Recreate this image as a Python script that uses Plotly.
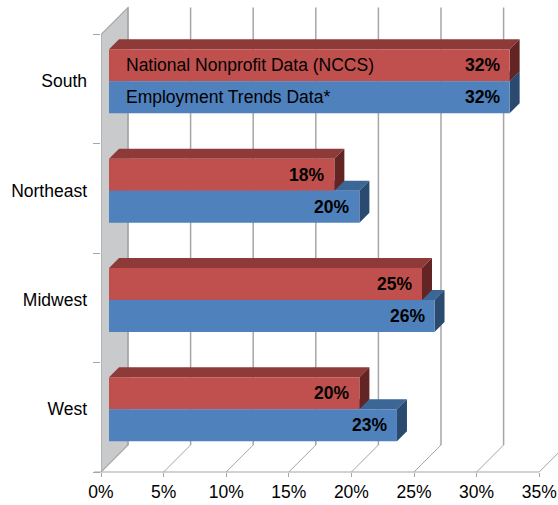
import plotly.graph_objects as go

# ---- data -------------------------------------------------------------
regions = ["South", "Northeast", "Midwest", "West"]
nccs = [32, 18, 25, 20]            # National Nonprofit Data (NCCS), %
employment = [32, 20, 26, 23]      # Employment Trends Data*, %
series_names = ["National Nonprofit Data (NCCS)", "Employment Trends Data*"]
x_ticks = [0, 5, 10, 15, 20, 25, 30, 35]

# ---- styling ------------------------------------------------------------
RED = dict(front="#C0504D", top="#8E3A38", side="#622523")
BLUE = dict(front="#4F81BD", top="#3C6696", side="#2B4A70")
GRID = "#A6A6A6"
WALL = "#C9CACC"
FONT = "Liberation Sans, Arial, Helvetica, sans-serif"
FSIZE = 17.5

# ---- layout geometry (pixels) ------------------------------------------
W, H = 558, 505
ML, MB = 101, 33
plot_w, plot_h = W - ML, H - MB
PX = 12.52          # pixels per percentage point
PY = 109.35         # pixels per category band
BOX = 27            # depth of the 3-D box
BAR_Z = 8           # depth at which the bar fronts sit
BAR_D = 10          # depth of each bar
BAR_H = 32          # height of each bar

x_max = plot_w / PX
y_top = 3.5 - plot_h / PY
bx, by = BOX / PX, BOX / PY          # box depth in axis units
dx, dy = BAR_D / PX, BAR_D / PY      # bar depth in axis units
bw = BAR_H / PY                      # bar thickness in category units
zx, zy = BAR_Z / PX, BAR_Z / PY      # bar-plane shift

fig = go.Figure()

# ---- 3-D side faces of the bars (drawn underneath the bar fronts) --------
def faces(values, top_off):
    top_x, top_y, side_x, side_y = [], [], [], []
    for i, v in enumerate(values):
        t = i + top_off
        b = t + bw
        top_x += [0, v, v + dx, dx, 0, None]
        top_y += [t, t, t - dy, t - dy, t, None]
        side_x += [v, v, v + dx, v + dx, v, None]
        side_y += [t, b, b - dy, t - dy, t, None]
    return top_x, top_y, side_x, side_y

for vals, off, col in [(employment, 0.0, BLUE), (nccs, -bw, RED)]:
    tx, ty, sx, sy = faces(vals, off)
    for xs, ys, c in [(tx, ty, col["top"]), (sx, sy, col["side"])]:
        fig.add_trace(go.Scatter(
            x=xs, y=ys, mode="lines", fill="toself", fillcolor=c,
            line=dict(width=0, color=c), hoverinfo="skip",
            showlegend=False, xaxis="x2", yaxis="y2"))

# ---- bar fronts ----------------------------------------------------------
ypos = list(range(len(regions)))
fig.add_trace(go.Bar(
    name=series_names[0], orientation="h", y=ypos, x=nccs,
    width=bw, offset=-bw, marker=dict(color=RED["front"], line=dict(width=0)),
    xaxis="x3", yaxis="y3", showlegend=False))
fig.add_trace(go.Bar(
    name=series_names[1], orientation="h", y=ypos, x=employment,
    width=bw, offset=0, marker=dict(color=BLUE["front"], line=dict(width=0)),
    xaxis="x3", yaxis="y3", showlegend=False))

# ---- labels inside the bars ---------------------------------------------
ann = []
for i, (a, b) in enumerate(zip(nccs, employment)):
    for v, yc in [(a, i - bw / 2), (b, i + bw / 2)]:
        ann.append(dict(x=v, y=yc, xref="x3", yref="y3", text=f"<b>{v}%</b>",
                        showarrow=False, xanchor="right", yanchor="middle",
                        xshift=-8, font=dict(family=FONT, size=FSIZE, color="black")))
for name, yc in [(series_names[0], -bw / 2), (series_names[1], bw / 2)]:
    ann.append(dict(x=0, y=yc, xref="x3", yref="y3", text=name, showarrow=False,
                    xanchor="left", yanchor="middle", xshift=15,
                    font=dict(family=FONT, size=FSIZE, color="black")))

# ---- box: side wall, back gridlines, floor lines ------------------------
shapes = []
shapes.append(dict(type="path", xref="x", yref="y", layer="below",
                   path=f"M 0 3.5 L 0 -0.5 L {bx} {-0.5 - by} L {bx} {3.5 - by} Z",
                   fillcolor=WALL, line=dict(color=GRID, width=1.2)))
for k in x_ticks:
    shapes.append(dict(type="line", xref="x", yref="y", layer="below",
                       x0=k + bx, x1=k + bx, y0=-0.5 - by, y1=3.5 - by,
                       line=dict(color=GRID, width=1.5)))
    shapes.append(dict(type="line", xref="x", yref="y", layer="below",
                       x0=k, x1=k + bx, y0=3.5, y1=3.5 - by,
                       line=dict(color=GRID, width=1)))
shapes.append(dict(type="line", xref="paper", yref="paper", layer="below",
                   x0=-7 / plot_w, x1=x_ticks[-1] * PX / plot_w, y0=0, y1=0,
                   line=dict(color=GRID, width=1.2)))

axis_font = dict(family=FONT, size=FSIZE, color="black")
fig.update_layout(
    width=W, height=H,
    margin=dict(l=ML, r=0, t=0, b=MB),
    paper_bgcolor="white", plot_bgcolor="white",
    barmode="overlay", showlegend=False,
    shapes=shapes, annotations=ann,
    xaxis=dict(range=[0, x_max], showgrid=False, zeroline=False, showline=False,
               tickvals=x_ticks, ticktext=[f"{k}%" for k in x_ticks],
               ticks="outside", ticklen=4, tickcolor=GRID, tickfont=axis_font,
               ticklabeloverflow="allow"),
    yaxis=dict(range=[3.5, y_top], showgrid=False, zeroline=False, showline=False,
               tickvals=[-0.5, 0.5, 1.5, 2.5, 3.5], showticklabels=False,
               ticks="outside", ticklen=7, tickcolor=GRID),
    xaxis2=dict(range=[-zx, x_max - zx], overlaying="x", visible=False),
    yaxis2=dict(range=[3.5 + zy, y_top + zy], overlaying="y", visible=False),
    xaxis3=dict(range=[-zx, x_max - zx], overlaying="x", visible=False),
    yaxis3=dict(range=[3.5 + zy, y_top + zy], overlaying="y", anchor="x3",
                showgrid=False, zeroline=False, showline=False,
                tickvals=ypos, ticktext=regions, ticks="",
                ticklabelstandoff=13, tickfont=axis_font),
)

fig.write_html("out.html")
